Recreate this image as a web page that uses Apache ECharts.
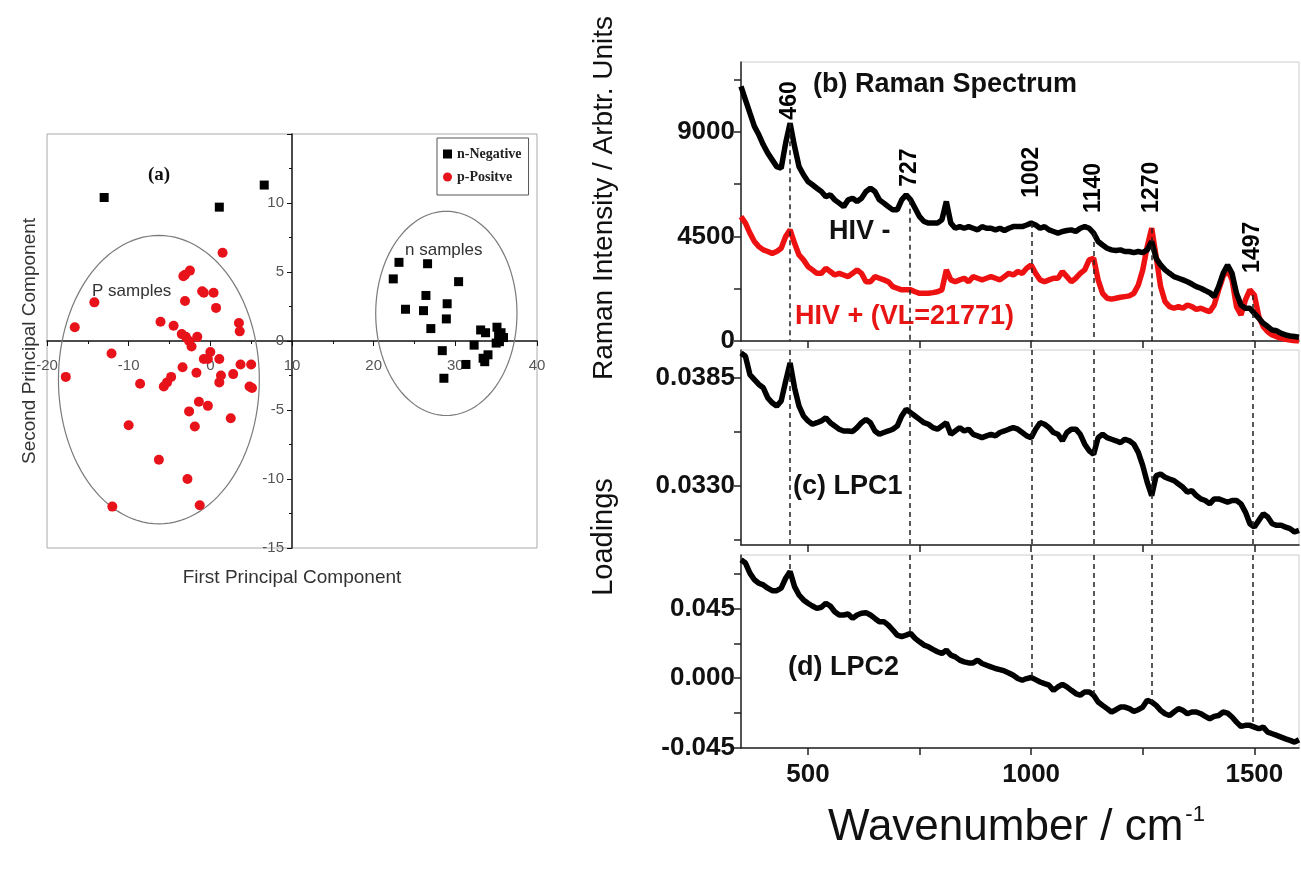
<!DOCTYPE html>
<html>
<head>
<meta charset="utf-8">
<script src="https://cdn.jsdelivr.net/npm/echarts@6/dist/echarts.min.js"></script>
<style>
html, body { margin: 0; background: #fff; }
#main { width: 1301px; height: 871px; }
</style>
</head>
<body>
<div id="main"></div>
<script>
// (a) PCA scores
var negPts = [
  [-13.0, 10.4], [1.1, 9.7], [6.6, 11.3],
  [23.1, 5.7], [22.4, 4.5], [26.6, 5.6], [30.4, 4.3], [26.4, 3.3], [23.9, 2.3],
  [26.1, 2.2], [29.0, 2.7], [28.9, 1.6], [27.0, 0.9], [28.4, -0.7], [28.6, -2.7],
  [32.3, -0.3], [31.3, -1.7], [33.1, 0.8], [33.7, 0.6], [33.4, -1.25], [34.0, -1.0],
  [33.6, -1.5], [35.1, 1.0], [35.3, 0.4], [35.4, -0.05], [35.0, -0.15], [35.9, 0.25], [35.6, 0.6]
];
var posPts = [
  [1.5, 6.4], [-2.5, 5.1], [-3.1, 4.8], [-3.3, 4.7], [-1.0, 3.6], [-0.8, 3.5], [0.4, 3.5],
  [0.7, 2.4], [-3.1, 2.9], [-14.2, 2.8], [-16.6, 1.0], [-6.1, 1.4], [-4.5, 1.1], [3.5, 1.3],
  [3.6, 0.7], [-3.5, 0.5], [-3.0, 0.3], [-2.6, 0.0], [-2.3, -0.4], [-1.6, 0.3], [0.0, -0.8],
  [-0.8, -1.3], [-0.3, -1.3], [1.1, -1.3], [-12.1, -0.9], [-17.7, -2.6], [3.7, -1.7], [5.0, -1.7],
  [-3.4, -1.9], [-1.7, -2.3], [1.3, -2.5], [1.1, -3.0], [2.8, -2.4], [-4.8, -2.6], [-5.3, -3.0],
  [-5.7, -3.3], [-8.6, -3.1], [4.8, -3.3], [5.1, -3.4], [-1.4, -4.4], [-0.3, -4.7], [-2.6, -5.1],
  [2.5, -5.6], [-10.0, -6.1], [-1.9, -6.2], [-6.3, -8.6], [-2.8, -10.0], [-12.0, -12.0], [-1.3, -11.9]
];
// ellipses: centre x, centre y, radius x, radius y
var groupEllipses = [
  [-6.3, -2.8, 12.3, 10.45],
  [28.9, 2.0, 8.65, 7.4]
];

// (b)-(d) spectra, sampled every 10 cm-1 from 350 to 1600
var wnStart = 350, wnStep = 10;
var hivNeg = [
  10950, 10375, 9800, 9230, 8870, 8440, 8080, 7790, 7500, 7430,
  8510, 9370, 8370, 7500, 7150, 6860, 6720, 6570, 6430, 6210,
  6290, 6070, 5930, 5780, 6070, 6140, 6000, 6140, 6430, 6570,
  6430, 6070, 5930, 5780, 5640, 5640, 6070, 6290, 6070, 5710,
  5350, 5140, 5070, 5070, 5070, 5210, 6000, 5070, 4850, 4920,
  4850, 4920, 4850, 4780, 4920, 4850, 4850, 4780, 4850, 4750,
  4850, 4920, 4920, 4920, 4990, 5070, 4990, 4850, 4920, 4780,
  4710, 4640, 4710, 4750, 4780, 4710, 4850, 4920, 4850, 4640,
  4280, 4130, 3990, 3920, 3890, 3920, 3850, 3850, 3800, 3850,
  3800, 3920, 4280, 3560, 3270, 3060, 2910, 2770, 2700, 2630,
  2550, 2450, 2340, 2270, 2170, 2080, 1910, 2340, 2910, 3270,
  2910, 2050, 1550, 1410, 1410, 1190, 980, 760, 620, 470,
  440, 330, 260, 215, 190, 160
];
var hivPos = [
  5350, 5070, 4640, 4280, 4060, 3920, 3850, 3770, 3850, 3990,
  4490, 4780, 4200, 3700, 3490, 3200, 3060, 2910, 2910, 3130,
  2990, 2840, 2910, 2840, 2770, 2910, 3060, 2910, 2550, 2550,
  2770, 2700, 2630, 2550, 2340, 2270, 2200, 2200, 2200, 2120,
  2050, 2050, 2050, 2080, 2120, 2200, 3060, 2630, 2550, 2630,
  2700, 2550, 2770, 2700, 2630, 2700, 2770, 2700, 2630, 2770,
  2910, 2840, 2990, 2910, 3130, 3270, 2910, 2630, 2550, 2630,
  2700, 2700, 2990, 2770, 2550, 2700, 2910, 3060, 3490, 3560,
  2630, 2050, 1840, 1800, 1840, 1880, 1910, 1940, 2050, 2410,
  3060, 4060, 4850, 3630, 2340, 1690, 1480, 1410, 1480, 1410,
  1550, 1480, 1360, 1410, 1330, 1260, 1550, 2200, 2770, 3060,
  2630, 1480, 1120, 1770, 2200, 1980, 1050, 620, 400, 260,
  190, 115, 70, 40, 15, 0
];
var lpc1 = [
  0.03975, 0.03958, 0.03865, 0.03840, 0.03815, 0.03798, 0.03747, 0.03722, 0.03705, 0.03731,
  0.03831, 0.03924, 0.03798, 0.03705, 0.03655, 0.03630, 0.03613, 0.03621, 0.03630, 0.03646,
  0.03621, 0.03604, 0.03588, 0.03579, 0.03579, 0.03576, 0.03596, 0.03621, 0.03638, 0.03621,
  0.03579, 0.03562, 0.03571, 0.03579, 0.03588, 0.03604, 0.03655, 0.03689, 0.03672, 0.03655,
  0.03638, 0.03621, 0.03613, 0.03596, 0.03588, 0.03604, 0.03621, 0.03562, 0.03579, 0.03596,
  0.03579, 0.03588, 0.03562, 0.03554, 0.03545, 0.03554, 0.03562, 0.03554, 0.03571, 0.03579,
  0.03588, 0.03596, 0.03588, 0.03571, 0.03554, 0.03545, 0.03588, 0.03621, 0.03613, 0.03596,
  0.03571, 0.03562, 0.03529, 0.03571, 0.03588, 0.03588, 0.03562, 0.03512, 0.03478, 0.03461,
  0.03545, 0.03562, 0.03545, 0.03537, 0.03529, 0.03520, 0.03537, 0.03529, 0.03512, 0.03470,
  0.03403, 0.03318, 0.03251, 0.03352, 0.03360, 0.03344, 0.03335, 0.03327, 0.03310, 0.03293,
  0.03268, 0.03276, 0.03251, 0.03234, 0.03226, 0.03209, 0.03234, 0.03234, 0.03226, 0.03217,
  0.03226, 0.03226, 0.03209, 0.03167, 0.03108, 0.03091, 0.03125, 0.03159, 0.03142, 0.03108,
  0.03100, 0.03100, 0.03091, 0.03083, 0.03066, 0.03074
];
var lpc2 = [
  0.0764, 0.0743, 0.0678, 0.0635, 0.0613, 0.0602, 0.0581, 0.0565, 0.0565, 0.0581,
  0.0645, 0.0688, 0.0591, 0.0537, 0.0505, 0.0484, 0.0466, 0.0451, 0.0458, 0.0484,
  0.0466, 0.0429, 0.0408, 0.0408, 0.0414, 0.0386, 0.0408, 0.0419, 0.0423, 0.0408,
  0.0386, 0.0365, 0.0365, 0.0343, 0.0311, 0.0278, 0.0268, 0.0278, 0.0289, 0.0257,
  0.0235, 0.0214, 0.0203, 0.0186, 0.0171, 0.0160, 0.0181, 0.0149, 0.0138, 0.0117,
  0.0106, 0.0099, 0.0099, 0.0117, 0.0095, 0.0084, 0.0073, 0.0063, 0.0056, 0.0047,
  0.0034, 0.0019, -0.0002, -0.0013, -0.0002, 0.0005, -0.0009, -0.0024, -0.0035, -0.0045,
  -0.0078, -0.0056, -0.0039, -0.0056, -0.0078, -0.0099, -0.0110, -0.0088, -0.0088, -0.0110,
  -0.0153, -0.0175, -0.0196, -0.0218, -0.0203, -0.0186, -0.0186, -0.0196, -0.0214, -0.0203,
  -0.0186, -0.0142, -0.0153, -0.0175, -0.0207, -0.0229, -0.0240, -0.0218, -0.0196, -0.0207,
  -0.0229, -0.0218, -0.0218, -0.0229, -0.0246, -0.0261, -0.0246, -0.0240, -0.0218, -0.0225,
  -0.0250, -0.0283, -0.0311, -0.0304, -0.0304, -0.0315, -0.0326, -0.0315, -0.0348, -0.0358,
  -0.0369, -0.0380, -0.0391, -0.0401, -0.0412, -0.0397
];

var peaks = [460, 727, 1002, 1140, 1270, 1497];
var peakLabelBase = [9520, 6630, 6160, 5510, 5510, 2930];

var xTicks = [500, 750, 1000, 1250, 1500];
var xLabels = [500, 1000, 1500];
var bTicks = [0, 2250, 4500, 6750, 9000, 11250];
var bLabels = [0, 4500, 9000];
var cTicks = [0.03025, 0.0330, 0.03575, 0.0385];
var cLabels = [0.0330, 0.0385];
var dTicks = [-0.045, -0.0225, 0, 0.0225, 0.045, 0.0675];
var dLabels = [-0.045, 0, 0.045];

var bRange = [0, 12000], cRange = [0.0300, 0.0399], dRange = [-0.045, 0.0795];

function pairs(vals) {
  return vals.map(function (v, i) { return [wnStart + i * wnStep, v]; });
}
function valueAt(vals, w) {
  return vals[Math.round((w - wnStart) / wnStep)];
}
function extend(a, b) {
  for (var k in b) a[k] = b[k];
  return a;
}

var FONT = 'Liberation Sans';
var axisDark = { color: '#222', width: 1.5 };
var tickLab = { fontFamily: FONT, fontSize: 26, fontWeight: 'bold', color: '#111' };
var dash = { type: [5, 4], color: '#222', width: 1.5 };

function specX(idx) {
  return {
    gridIndex: idx, type: 'value', min: 350, max: 1600,
    axisLine: { onZero: false, lineStyle: axisDark },
    axisTick: { customValues: xTicks, length: 7, lineStyle: axisDark },
    axisLabel: extend({
      show: idx === 3, customValues: xLabels, margin: 14,
      formatter: function (v) { return String(v); }
    }, tickLab),
    splitLine: { show: false }
  };
}
function specY(idx, range, ticks, labels, digits) {
  return {
    gridIndex: idx, type: 'value', min: range[0], max: range[1],
    axisLine: { onZero: false, lineStyle: axisDark },
    axisTick: { customValues: ticks, length: 7, lineStyle: axisDark },
    axisLabel: extend({
      customValues: labels, margin: 6,
      formatter: function (v) { return digits ? v.toFixed(digits) : String(v); }
    }, tickLab),
    splitLine: { show: false }
  };
}

var chart = echarts.init(document.getElementById('main'));

var option = {
  animation: false,
  backgroundColor: '#fff',
  grid: [
    { left: 47, top: 134, width: 490, height: 414, show: true, borderColor: '#aaa', borderWidth: 1 },
    { left: 741, right: 2, top: 62, height: 279, show: true, borderColor: '#ccc' },
    { left: 741, right: 2, top: 350, height: 195, show: true, borderColor: '#ccc' },
    { left: 741, right: 2, top: 555, height: 193, show: true, borderColor: '#ccc' }
  ],
  legend: {
    data: ['n-Negative', 'p-Positve'],
    left: 437, top: 138, orient: 'vertical',
    itemWidth: 9, itemHeight: 9, itemGap: 9,
    padding: [9, 7, 11, 6],
    borderColor: '#555', borderWidth: 1,
    textStyle: { fontFamily: 'Liberation Serif', fontWeight: 'bold', fontSize: 14, color: '#222' }
  },
  xAxis: [
    {
      // axis drawn through y = 0 (mid-height of the frame)
      gridIndex: 0, type: 'value', min: -20, max: 40, interval: 10,
      position: 'bottom', offset: -207,
      axisLine: { onZero: false, lineStyle: { color: '#111', width: 1.5 } },
      axisTick: { length: 5, lineStyle: { color: '#111' } },
      minorTick: { show: true, splitNumber: 2, length: 3, lineStyle: { color: '#111' } },
      axisLabel: { color: '#555', fontFamily: FONT, fontSize: 15, margin: 17 },
      splitLine: { show: false }
    },
    specX(1), specX(2), specX(3)
  ],
  yAxis: [
    {
      // axis drawn through x = 10 (mid-width of the frame)
      gridIndex: 0, type: 'value', min: -15, max: 15, interval: 5, offset: -245,
      axisLine: { onZero: false, lineStyle: { color: '#111', width: 1.5 } },
      axisTick: { length: 5, lineStyle: { color: '#111' } },
      minorTick: { show: true, splitNumber: 2, length: 3, lineStyle: { color: '#111' } },
      axisLabel: { color: '#555', fontFamily: FONT, fontSize: 15, showMaxLabel: false, margin: 8 },
      splitLine: { show: false }
    },
    specY(1, bRange, bTicks, bLabels, 0),
    specY(2, cRange, cTicks, cLabels, 4),
    specY(3, dRange, dTicks, dLabels, 3)
  ],
  series: [
    {
      type: 'custom', xAxisIndex: 0, yAxisIndex: 0, silent: true, z: 1,
      encode: { x: 0, y: 1 },
      data: groupEllipses,
      renderItem: function (params, api) {
        var c = api.coord([api.value(0), api.value(1)]);
        var s = api.size([api.value(2), api.value(3)]);
        var pts = [];
        for (var k = 0; k <= 120; k++) {
          var t = k / 120 * Math.PI * 2;
          pts.push([c[0] + s[0] * Math.cos(t), c[1] + s[1] * Math.sin(t)]);
        }
        return { type: 'polyline', shape: { points: pts }, style: { stroke: '#7a7a7a', lineWidth: 1.2, fill: null } };
      }
    },
    {
      name: 'n-Negative', type: 'scatter', xAxisIndex: 0, yAxisIndex: 0,
      symbol: 'rect', symbolSize: 9, itemStyle: { color: '#000', opacity: 1 }, z: 3,
      data: negPts
    },
    {
      name: 'p-Positve', type: 'scatter', xAxisIndex: 0, yAxisIndex: 0,
      symbol: 'circle', symbolSize: 10, itemStyle: { color: '#e8121a', opacity: 1 }, z: 3,
      data: posPts
    },
    {
      // peak labels and dashed guides in (b)
      type: 'scatter', xAxisIndex: 1, yAxisIndex: 1, symbolSize: 0, z: 1, silent: true,
      data: peaks.map(function (p, i) { return [p, peakLabelBase[i]]; }),
      label: {
        show: true, position: [0, 0], align: 'left', verticalAlign: 'middle', rotate: 90,
        formatter: function (d) { return String(peaks[d.dataIndex]); },
        fontFamily: FONT, fontSize: 23, fontWeight: 'bold', color: '#000',
        textBorderWidth: 0, opacity: 1
      },
      markLine: {
        silent: true, symbol: ['none', 'none'], label: { show: false }, lineStyle: dash,
        data: peaks.map(function (p) {
          var top = Math.max(valueAt(hivNeg, p), valueAt(hivPos, p));
          return [{ coord: [p, top] }, { coord: [p, bRange[0]] }];
        })
      }
    },
    {
      name: 'HIV +', type: 'line', xAxisIndex: 1, yAxisIndex: 1, showSymbol: false, z: 3,
      lineStyle: { color: '#ee1111', width: 5.5 }, data: pairs(hivPos)
    },
    {
      name: 'HIV -', type: 'line', xAxisIndex: 1, yAxisIndex: 1, showSymbol: false, z: 4,
      lineStyle: { color: '#000', width: 5.5 }, data: pairs(hivNeg)
    },
    {
      type: 'scatter', xAxisIndex: 2, yAxisIndex: 2, symbolSize: 0, z: 1, silent: true,
      data: peaks.map(function (p) { return [p, valueAt(lpc1, p)]; }),
      markLine: {
        silent: true, symbol: ['none', 'none'], label: { show: false }, lineStyle: dash,
        data: peaks.map(function (p) { return [{ coord: [p, cRange[1]] }, { coord: [p, cRange[0]] }]; })
      }
    },
    {
      name: 'LPC1', type: 'line', xAxisIndex: 2, yAxisIndex: 2, showSymbol: false, z: 3,
      lineStyle: { color: '#000', width: 5.5 }, data: pairs(lpc1)
    },
    {
      type: 'scatter', xAxisIndex: 3, yAxisIndex: 3, symbolSize: 0, z: 1, silent: true,
      data: peaks.map(function (p) { return [p, valueAt(lpc2, p)]; }),
      markLine: {
        silent: true, symbol: ['none', 'none'], label: { show: false }, lineStyle: dash,
        data: peaks.map(function (p) { return [{ coord: [p, dRange[1]] }, { coord: [p, valueAt(lpc2, p)] }]; })
      }
    },
    {
      name: 'LPC2', type: 'line', xAxisIndex: 3, yAxisIndex: 3, showSymbol: false, z: 3,
      lineStyle: { color: '#000', width: 5.5 }, data: pairs(lpc2)
    }
  ],
  graphic: [
    { type: 'text', left: 148, top: 166, style: { text: '(a)', font: 'bold 19px "Liberation Serif"', fill: '#111' } },
    { type: 'text', x: 92, y: 291, style: { text: 'P samples', font: '17px "Liberation Sans"', fill: '#333', verticalAlign: 'middle' } },
    { type: 'text', x: 405, y: 250, style: { text: 'n samples', font: '17px "Liberation Sans"', fill: '#333', verticalAlign: 'middle' } },
    { type: 'text', x: 292, y: 578, style: { text: 'First Principal Component', font: '19px "Liberation Sans"', fill: '#333', align: 'center', verticalAlign: 'middle' } },
    { type: 'text', x: 30, y: 341, rotation: Math.PI / 2, style: { text: 'Second Principal Component', font: '19px "Liberation Sans"', fill: '#333', align: 'center', verticalAlign: 'middle' } },
    { type: 'text', x: 604, y: 198, rotation: Math.PI / 2, style: { text: 'Raman Intensity / Arbtr. Units', font: '28px "Liberation Sans"', fill: '#111', align: 'center', verticalAlign: 'middle' } },
    { type: 'text', x: 604, y: 537, rotation: Math.PI / 2, style: { text: 'Loadings', font: '29px "Liberation Sans"', fill: '#111', align: 'center', verticalAlign: 'middle' } },
    {
      type: 'text', x: 828, y: 828,
      style: {
        text: '{m|Wavenumber / cm}{s|-1}', verticalAlign: 'middle',
        rich: {
          m: { font: '44px "Liberation Sans"', fill: '#111' },
          s: { font: '22px "Liberation Sans"', fill: '#111', verticalAlign: 'top', padding: [0, 0, 26, 2] }
        }
      }
    },
    { type: 'text', x: 813, y: 85, style: { text: '(b) Raman Spectrum', font: 'bold 27px "Liberation Sans"', fill: '#111', verticalAlign: 'middle' } },
    { type: 'text', x: 829, y: 232, style: { text: 'HIV -', font: 'bold 27px "Liberation Sans"', fill: '#111', verticalAlign: 'middle' } },
    { type: 'text', x: 795, y: 317, style: { text: 'HIV + (VL=21771)', font: 'bold 27px "Liberation Sans"', fill: '#e81414', verticalAlign: 'middle' } },
    { type: 'text', x: 793, y: 487, style: { text: '(c) LPC1', font: 'bold 27px "Liberation Sans"', fill: '#111', verticalAlign: 'middle' } },
    { type: 'text', x: 788, y: 668, style: { text: '(d) LPC2', font: 'bold 27px "Liberation Sans"', fill: '#111', verticalAlign: 'middle' } }
  ]
};

chart.setOption(option);
</script>
</body>
</html>
